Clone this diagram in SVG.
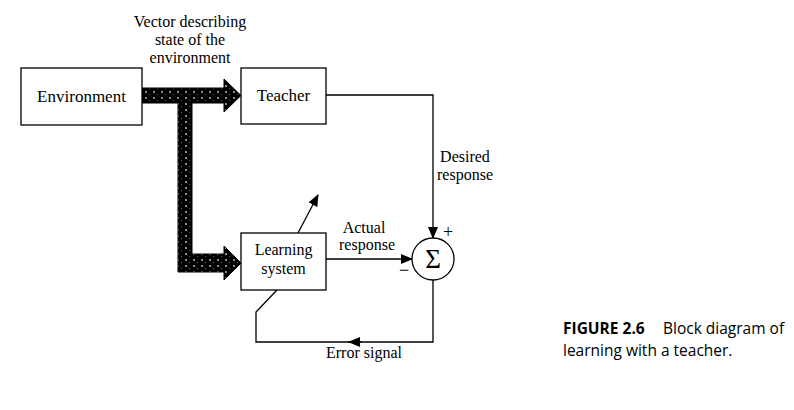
<svg xmlns="http://www.w3.org/2000/svg" width="794" height="410" viewBox="0 0 794 410">
<style>
.box{fill:#fff;stroke:#000;stroke-width:1.3}
.ln{fill:none;stroke:#000;stroke-width:1.3}
.t{font-family:"Liberation Serif","Times New Roman",serif;font-size:16px;fill:#000;text-anchor:middle}
.tb{font-family:"Liberation Serif","Times New Roman",serif;font-size:17px;fill:#000;text-anchor:middle}
.cap{font-family:"Open Sans","Noto Sans",sans-serif;font-size:15.5px;fill:#000}
</style>
<defs>
<marker id="ah" markerWidth="12" markerHeight="10" refX="11" refY="5" orient="auto" markerUnits="userSpaceOnUse">
<path d="M0,0 L12,5 L0,10 Z" fill="#000"/>
</marker>
<pattern id="stip" width="8" height="6" patternUnits="userSpaceOnUse">
<rect width="8" height="6" fill="#000"/>
<rect x="1" y="1" width="2" height="2" fill="#8a8a8a"/>
<rect x="5" y="4" width="1" height="1" fill="#666"/>
</pattern>
</defs>
<rect width="794" height="410" fill="#fff"/>

<g id="connectors">
<path id="thick-arrow" d="M142,88 L224,88 L224,79 L241,95.5 L224,112 L224,103 L192,103 L192,254 L224,254 L224,246 L241,263 L224,280 L224,272 L178,272 L178,103 L142,103 Z" fill="url(#stip)" stroke="#000" stroke-width="1"/>
<path class="ln" d="M326,95 L433,95 L433,238" marker-end="url(#ah)"/>
<path class="ln" d="M326,259 L412,259" marker-end="url(#ah)"/>
<path class="ln" d="M433,280 L433,342 L350,342"/>
<path class="ln" d="M362,342 L349,342" marker-end="url(#ah)"/>
<path class="ln" d="M350,342 L256,342 L256,312 L277,290"/>
<path class="ln" d="M298,233 L318,195" marker-end="url(#ah)"/>
</g>

<g id="environment">
<rect class="box" x="21" y="68" width="121" height="57"/>
<text class="tb" x="81.5" y="102">Environment</text>
</g>

<g id="teacher">
<rect class="box" x="241" y="68" width="85" height="56"/>
<text class="tb" x="283.5" y="101">Teacher</text>
</g>

<g id="learning-system">
<rect class="box" x="241" y="233" width="85" height="57"/>
<text class="tb" x="283.5" y="255" style="font-size:16px">Learning</text>
<text class="tb" x="283.5" y="274" style="font-size:16px">system</text>
</g>

<g id="summer">
<circle cx="433" cy="259" r="21" fill="#fff" stroke="#000" stroke-width="1.3"/>
<text class="t" x="433" y="268" style="font-size:27px">Σ</text>
<text class="t" x="448" y="238" style="font-size:18px">+</text>
<text class="t" x="404" y="276" style="font-size:18px">−</text>
</g>

<g id="labels">
<text class="t" x="190" y="27">Vector describing</text>
<text class="t" x="190" y="45">state of the</text>
<text class="t" x="190" y="63">environment</text>
<text class="t" x="465" y="162">Desired</text>
<text class="t" x="465" y="180">response</text>
<text class="t" x="364" y="233">Actual</text>
<text class="t" x="367" y="250">response</text>
<text class="t" x="364" y="358">Error signal</text>
</g>

<g id="caption">
<text class="cap" x="563" y="334"><tspan font-weight="bold">FIGURE 2.6</tspan><tspan x="663">Block diagram of</tspan></text>
<text class="cap" x="563" y="356">learning with a teacher.</text>
</g>
</svg>
